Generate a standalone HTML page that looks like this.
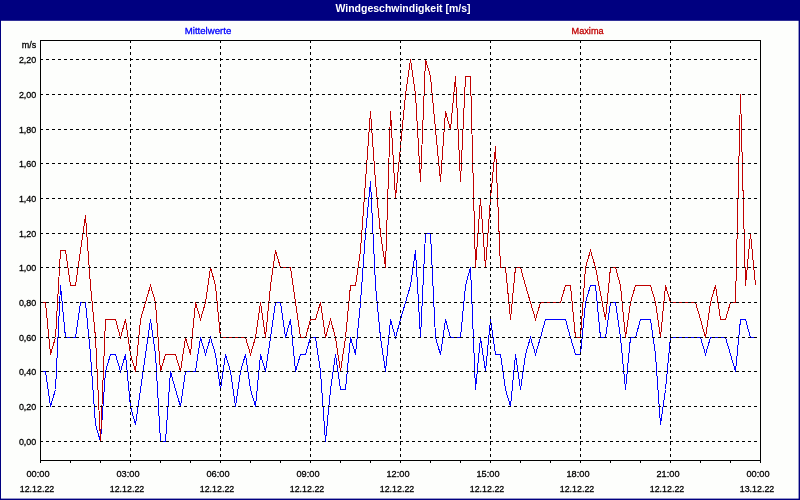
<!DOCTYPE html>
<html lang="de"><head><meta charset="utf-8"><title>Windgeschwindigkeit [m/s]</title>
<style>html,body{margin:0;padding:0;background:#fdfefc;overflow:hidden}svg{display:block}text{font-family:"Liberation Sans",sans-serif}</style></head><body>
<svg width="800" height="500" viewBox="0 0 800 500">
<rect x="0" y="0" width="800" height="500" fill="#fdfefc"/>
<rect x="0" y="0" width="800" height="20.8" fill="#000080"/>
<rect x="0" y="0" width="1" height="500" fill="#000080"/>
<rect x="798.6" y="0" width="1.4" height="500" fill="#000080"/>
<rect x="0" y="498.6" width="800" height="1.4" fill="#000080"/>
<text x="403" y="12" fill="#fff" font-size="10.5" font-weight="bold" text-anchor="middle" textLength="135" lengthAdjust="spacingAndGlyphs">Windgeschwindigkeit [m/s]</text>
<text x="208" y="34" fill="#0000ff" stroke="#0000ff" stroke-width="0.3" font-size="9.7" text-anchor="middle" textLength="46.5" lengthAdjust="spacingAndGlyphs">Mittelwerte</text>
<text x="587.6" y="34" fill="#c00000" stroke="#c00000" stroke-width="0.3" font-size="9.7" text-anchor="middle" textLength="32" lengthAdjust="spacingAndGlyphs">Maxima</text>
<g shape-rendering="crispEdges" stroke-width="1" fill="none" stroke-linejoin="miter">
<polyline stroke="#0000ff" points="40.5,371.5 45.5,371.5 50.5,406.5 55.5,389.5 60.5,285.5 65.5,337.5 70.5,337.5 75.5,337.5 80.5,302.5 85.5,302.5 90.5,354.5 95.5,424.5 100.5,441.5 105.5,371.5 110.5,354.5 115.5,354.5 120.5,371.5 125.5,354.5 130.5,406.5 135.5,424.5 140.5,389.5 145.5,354.5 150.5,319.5 155.5,354.5 160.5,441.5 165.5,441.5 170.5,371.5 175.5,389.5 180.5,406.5 185.5,371.5 190.5,371.5 195.5,371.5 200.5,337.5 205.5,354.5 210.5,337.5 215.5,354.5 220.5,389.5 225.5,354.5 230.5,371.5 235.5,406.5 240.5,371.5 245.5,354.5 250.5,389.5 255.5,406.5 260.5,354.5 265.5,371.5 270.5,337.5 275.5,302.5 280.5,302.5 285.5,337.5 290.5,319.5 295.5,371.5 300.5,354.5 305.5,354.5 310.5,337.5 315.5,337.5 320.5,371.5 325.5,441.5 330.5,389.5 335.5,354.5 340.5,389.5 345.5,389.5 350.5,337.5 355.5,354.5 360.5,302.5 365.5,233.5 370.5,181.5 375.5,285.5 380.5,337.5 385.5,371.5 390.5,319.5 395.5,337.5 400.5,319.5 405.5,302.5 410.5,285.5 415.5,250.5 420.5,337.5 425.5,233.5 430.5,233.5 435.5,337.5 440.5,354.5 445.5,319.5 450.5,337.5 455.5,337.5 460.5,337.5 465.5,285.5 470.5,267.5 475.5,389.5 480.5,337.5 485.5,371.5 490.5,319.5 495.5,354.5 500.5,354.5 505.5,389.5 510.5,406.5 515.5,354.5 520.5,389.5 525.5,354.5 530.5,337.5 535.5,354.5 540.5,337.5 545.5,319.5 550.5,319.5 555.5,319.5 560.5,319.5 565.5,319.5 570.5,337.5 575.5,354.5 580.5,354.5 585.5,302.5 590.5,285.5 595.5,285.5 600.5,337.5 605.5,337.5 610.5,302.5 615.5,302.5 620.5,337.5 625.5,389.5 630.5,337.5 635.5,337.5 640.5,319.5 645.5,319.5 650.5,319.5 655.5,354.5 660.5,424.5 665.5,389.5 670.5,337.5 675.5,337.5 680.5,337.5 685.5,337.5 690.5,337.5 695.5,337.5 700.5,337.5 705.5,354.5 710.5,337.5 715.5,337.5 720.5,337.5 725.5,337.5 730.5,354.5 735.5,371.5 740.5,319.5 745.5,319.5 750.5,337.5 755.5,337.5"/>
<polyline stroke="#c00000" points="40.5,302.5 45.5,302.5 50.5,354.5 55.5,337.5 60.5,250.5 65.5,250.5 70.5,285.5 75.5,285.5 80.5,250.5 85.5,215.5 90.5,285.5 95.5,337.5 100.5,441.5 105.5,319.5 110.5,319.5 115.5,319.5 120.5,337.5 125.5,319.5 130.5,354.5 135.5,371.5 140.5,319.5 145.5,302.5 150.5,285.5 155.5,302.5 160.5,371.5 165.5,354.5 170.5,354.5 175.5,354.5 180.5,371.5 185.5,337.5 190.5,354.5 195.5,302.5 200.5,319.5 205.5,302.5 210.5,267.5 215.5,285.5 220.5,337.5 225.5,337.5 230.5,337.5 235.5,337.5 240.5,337.5 245.5,337.5 250.5,354.5 255.5,337.5 260.5,302.5 265.5,337.5 270.5,285.5 275.5,250.5 280.5,267.5 285.5,267.5 290.5,267.5 295.5,302.5 300.5,337.5 305.5,337.5 310.5,319.5 315.5,319.5 320.5,302.5 325.5,337.5 330.5,319.5 335.5,337.5 340.5,371.5 345.5,337.5 350.5,285.5 355.5,285.5 360.5,250.5 365.5,181.5 370.5,111.5 375.5,181.5 380.5,233.5 385.5,267.5 390.5,111.5 395.5,198.5 400.5,146.5 405.5,94.5 410.5,59.5 415.5,94.5 420.5,181.5 425.5,59.5 430.5,76.5 435.5,129.5 440.5,181.5 445.5,111.5 450.5,129.5 455.5,76.5 460.5,181.5 465.5,76.5 470.5,76.5 475.5,267.5 480.5,198.5 485.5,267.5 490.5,198.5 495.5,146.5 500.5,267.5 505.5,267.5 510.5,319.5 515.5,267.5 520.5,267.5 525.5,285.5 530.5,302.5 535.5,319.5 540.5,302.5 545.5,302.5 550.5,302.5 555.5,302.5 560.5,302.5 565.5,285.5 570.5,285.5 575.5,337.5 580.5,337.5 585.5,267.5 590.5,250.5 595.5,267.5 600.5,293.5 605.5,319.5 610.5,267.5 615.5,267.5 620.5,285.5 625.5,337.5 630.5,302.5 635.5,285.5 640.5,285.5 645.5,285.5 650.5,285.5 655.5,302.5 660.5,337.5 665.5,285.5 670.5,302.5 675.5,302.5 680.5,302.5 685.5,302.5 690.5,302.5 695.5,302.5 700.5,319.5 705.5,337.5 710.5,302.5 715.5,285.5 720.5,319.5 725.5,319.5 730.5,302.5 735.5,302.5 740.5,94.5 745.5,285.5 750.5,233.5 755.5,285.5"/>
</g>
<g shape-rendering="crispEdges" stroke="#000" stroke-width="1" fill="none">
<line x1="40" y1="441.5" x2="760" y2="441.5" stroke-dasharray="3 3"/>
<line x1="40" y1="406.5" x2="760" y2="406.5" stroke-dasharray="3 3"/>
<line x1="40" y1="371.5" x2="760" y2="371.5" stroke-dasharray="3 3"/>
<line x1="40" y1="337.5" x2="760" y2="337.5" stroke-dasharray="3 3"/>
<line x1="40" y1="302.5" x2="760" y2="302.5" stroke-dasharray="3 3"/>
<line x1="40" y1="267.5" x2="760" y2="267.5" stroke-dasharray="3 3"/>
<line x1="40" y1="233.5" x2="760" y2="233.5" stroke-dasharray="3 3"/>
<line x1="40" y1="198.5" x2="760" y2="198.5" stroke-dasharray="3 3"/>
<line x1="40" y1="163.5" x2="760" y2="163.5" stroke-dasharray="3 3"/>
<line x1="40" y1="129.5" x2="760" y2="129.5" stroke-dasharray="3 3"/>
<line x1="40" y1="94.5" x2="760" y2="94.5" stroke-dasharray="3 3"/>
<line x1="40" y1="59.5" x2="760" y2="59.5" stroke-dasharray="3 3"/>
<line x1="130.5" y1="40" x2="130.5" y2="460" stroke-dasharray="3 3"/>
<line x1="220.5" y1="40" x2="220.5" y2="460" stroke-dasharray="3 3"/>
<line x1="310.5" y1="40" x2="310.5" y2="460" stroke-dasharray="3 3"/>
<line x1="400.5" y1="40" x2="400.5" y2="460" stroke-dasharray="3 3"/>
<line x1="490.5" y1="40" x2="490.5" y2="460" stroke-dasharray="3 3"/>
<line x1="580.5" y1="40" x2="580.5" y2="460" stroke-dasharray="3 3"/>
<line x1="670.5" y1="40" x2="670.5" y2="460" stroke-dasharray="3 3"/>
</g>
<g shape-rendering="crispEdges" stroke="#000" stroke-width="1" fill="none">
<rect x="40.5" y="40.5" width="720" height="420"/>
<line x1="40.5" y1="461" x2="40.5" y2="463"/>
<line x1="70.5" y1="461" x2="70.5" y2="463"/>
<line x1="100.5" y1="461" x2="100.5" y2="463"/>
<line x1="130.5" y1="461" x2="130.5" y2="463"/>
<line x1="160.5" y1="461" x2="160.5" y2="463"/>
<line x1="190.5" y1="461" x2="190.5" y2="463"/>
<line x1="220.5" y1="461" x2="220.5" y2="463"/>
<line x1="250.5" y1="461" x2="250.5" y2="463"/>
<line x1="280.5" y1="461" x2="280.5" y2="463"/>
<line x1="310.5" y1="461" x2="310.5" y2="463"/>
<line x1="340.5" y1="461" x2="340.5" y2="463"/>
<line x1="370.5" y1="461" x2="370.5" y2="463"/>
<line x1="400.5" y1="461" x2="400.5" y2="463"/>
<line x1="430.5" y1="461" x2="430.5" y2="463"/>
<line x1="460.5" y1="461" x2="460.5" y2="463"/>
<line x1="490.5" y1="461" x2="490.5" y2="463"/>
<line x1="520.5" y1="461" x2="520.5" y2="463"/>
<line x1="550.5" y1="461" x2="550.5" y2="463"/>
<line x1="580.5" y1="461" x2="580.5" y2="463"/>
<line x1="610.5" y1="461" x2="610.5" y2="463"/>
<line x1="640.5" y1="461" x2="640.5" y2="463"/>
<line x1="670.5" y1="461" x2="670.5" y2="463"/>
<line x1="700.5" y1="461" x2="700.5" y2="463"/>
<line x1="730.5" y1="461" x2="730.5" y2="463"/>
<line x1="760.5" y1="461" x2="760.5" y2="463"/>
</g>
<g font-size="9.7" fill="#000" stroke="#000" stroke-width="0.3" text-anchor="end">
<text x="36.3" y="47.7" textLength="14.5" lengthAdjust="spacingAndGlyphs">m/s</text>
<text x="36.3" y="444.6" textLength="17.4" lengthAdjust="spacingAndGlyphs">0,00</text>
<text x="36.3" y="409.6" textLength="17.4" lengthAdjust="spacingAndGlyphs">0,20</text>
<text x="36.3" y="374.6" textLength="17.4" lengthAdjust="spacingAndGlyphs">0,40</text>
<text x="36.3" y="340.6" textLength="17.4" lengthAdjust="spacingAndGlyphs">0,60</text>
<text x="36.3" y="305.6" textLength="17.4" lengthAdjust="spacingAndGlyphs">0,80</text>
<text x="36.3" y="270.6" textLength="17.4" lengthAdjust="spacingAndGlyphs">1,00</text>
<text x="36.3" y="236.6" textLength="17.4" lengthAdjust="spacingAndGlyphs">1,20</text>
<text x="36.3" y="201.6" textLength="17.4" lengthAdjust="spacingAndGlyphs">1,40</text>
<text x="36.3" y="166.6" textLength="17.4" lengthAdjust="spacingAndGlyphs">1,60</text>
<text x="36.3" y="132.6" textLength="17.4" lengthAdjust="spacingAndGlyphs">1,80</text>
<text x="36.3" y="97.6" textLength="17.4" lengthAdjust="spacingAndGlyphs">2,00</text>
<text x="36.3" y="62.6" textLength="17.4" lengthAdjust="spacingAndGlyphs">2,20</text>
</g>
<g font-size="9.7" fill="#000" stroke="#000" stroke-width="0.3" text-anchor="middle">
<text x="38" y="476.7" textLength="23" lengthAdjust="spacingAndGlyphs">00:00</text>
<text x="37" y="491.7" textLength="34.5" lengthAdjust="spacingAndGlyphs">12.12.22</text>
<text x="128" y="476.7" textLength="23" lengthAdjust="spacingAndGlyphs">03:00</text>
<text x="127" y="491.7" textLength="34.5" lengthAdjust="spacingAndGlyphs">12.12.22</text>
<text x="218" y="476.7" textLength="23" lengthAdjust="spacingAndGlyphs">06:00</text>
<text x="217" y="491.7" textLength="34.5" lengthAdjust="spacingAndGlyphs">12.12.22</text>
<text x="308" y="476.7" textLength="23" lengthAdjust="spacingAndGlyphs">09:00</text>
<text x="307" y="491.7" textLength="34.5" lengthAdjust="spacingAndGlyphs">12.12.22</text>
<text x="398" y="476.7" textLength="23" lengthAdjust="spacingAndGlyphs">12:00</text>
<text x="397" y="491.7" textLength="34.5" lengthAdjust="spacingAndGlyphs">12.12.22</text>
<text x="488" y="476.7" textLength="23" lengthAdjust="spacingAndGlyphs">15:00</text>
<text x="487" y="491.7" textLength="34.5" lengthAdjust="spacingAndGlyphs">12.12.22</text>
<text x="578" y="476.7" textLength="23" lengthAdjust="spacingAndGlyphs">18:00</text>
<text x="577" y="491.7" textLength="34.5" lengthAdjust="spacingAndGlyphs">12.12.22</text>
<text x="668" y="476.7" textLength="23" lengthAdjust="spacingAndGlyphs">21:00</text>
<text x="667" y="491.7" textLength="34.5" lengthAdjust="spacingAndGlyphs">12.12.22</text>
<text x="758" y="476.7" textLength="23" lengthAdjust="spacingAndGlyphs">00:00</text>
<text x="757" y="491.7" textLength="34.5" lengthAdjust="spacingAndGlyphs">13.12.22</text>
</g>
</svg></body></html>
